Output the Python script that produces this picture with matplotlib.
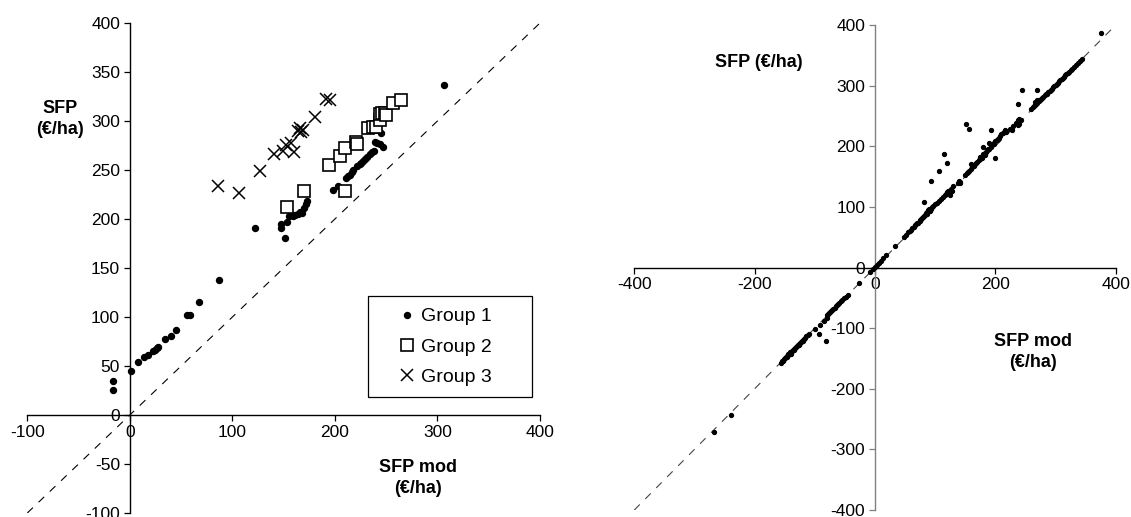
import matplotlib
matplotlib.use('Agg')  # Non-interactive backend
import matplotlib.pyplot as plt
from matplotlib.patches import Rectangle
import numpy as np

plt.rcParams['font.family'] = ['Liberation Sans', 'DejaVu Sans']
plt.rcParams['axes.unicode_minus'] = False

# Left panel: SFP vs SFP mod for three groups
g1_x = [-16, -16, 1, 8, 14, 18, 23, 25, 26, 27, 34, 40, 45, 56, 59, 67, 87, 122,
        147, 147, 151, 153, 155, 159, 161, 164, 166, 168, 170, 172, 173, 198, 203,
        211, 213, 215, 217, 218, 222, 224, 225, 227, 229, 231, 234, 236, 238, 239,
        241, 244, 247, 245, 306]
g1_y = [35, 26, 45, 54, 59, 61, 65, 66, 68, 69, 78, 81, 87, 102, 102, 115, 138, 191,
        195, 191, 181, 197, 203, 203, 204, 205, 207, 206, 211, 215, 218, 230, 234,
        242, 244, 245, 248, 250, 254, 256, 257, 259, 261, 263, 266, 268, 269, 279,
        278, 277, 273, 288, 337]

g2_x = [153, 170, 194, 205, 210, 210, 221, 222, 232, 237, 240, 244, 244, 246, 249, 250, 257, 264]
g2_y = [212, 229, 255, 264, 272, 229, 279, 277, 293, 294, 294, 301, 307, 308, 308, 306, 318, 321]

g3_x = [86, 106, 127, 141, 149, 152, 157, 160, 164, 166, 167, 169, 181, 191, 195]
g3_y = [234, 227, 249, 266, 269, 276, 278, 268, 290, 293, 289, 291, 304, 322, 321]

left_xticks = [-100, 0, 100, 200, 300, 400]
left_yticks = [-100, -50, 0, 50, 100, 150, 200, 250, 300, 350, 400]

# Right panel: all farms, (SFP mod, SFP) pairs
right_points = [
    (-157, -158), (-155, -155), (-153, -154), (-152, -151), (-150, -150), (-148, -148),
    (-147, -146), (-145, -145), (-144, -143), (-142, -142), (-141, -140), (-139, -139),
    (-138, -137), (-136, -136), (-135, -134), (-133, -133), (-131, -131), (-130, -129),
    (-128, -128), (-127, -126), (-125, -125), (-123, -123), (-122, -121), (-120, -120),
    (-118, -118), (-116, -116), (-114, -113), (-112, -111), (-110, -109), (-146, -148),
    (-140, -142), (-134, -136), (-126, -128), (-119, -121),
    (-80, -79), (-78, -77), (-76, -75), (-75, -73), (-73, -72), (-71, -70), (-69, -68),
    (-67, -66), (-65, -64), (-63, -62), (-61, -60), (-59, -58), (-57, -56), (-55, -54),
    (-52, -51), (-49, -48),
    (-45, -46), (-27, -26), (-8, -7), (-4, -3), (0, 1), (3, 4), (6, 7), (10, 11),
    (14, 16), (19, 20), (33, 35),
    (48, 50), (52, 54), (55, 58), (58, 61), (60, 62), (62, 65), (65, 67), (67, 70),
    (68, 72), (70, 73), (72, 74), (74, 77), (75, 78), (77, 80), (78, 81), (80, 83),
    (81, 85), (83, 86), (84, 88), (85, 90), (86, 92), (87, 89), (88, 95), (89, 93),
    (90, 96), (92, 94), (93, 97), (95, 99), (97, 101), (100, 104), (103, 106),
    (106, 110), (110, 113), (113, 116), (116, 119), (118, 122), (120, 124), (122, 126),
    (124, 127), (126, 130), (128, 127), (125, 120), (130, 134),
    (138, 140), (140, 142), (142, 139), (141, 141),
    (150, 153), (153, 156), (155, 158), (157, 160), (160, 162), (162, 165), (164, 167),
    (166, 170), (168, 172), (170, 174), (172, 177), (174, 179), (175, 183), (177, 181),
    (179, 185), (180, 187), (182, 186), (183, 189), (185, 191), (186, 193), (188, 195),
    (190, 196), (192, 198), (193, 200), (195, 202), (197, 204), (198, 206), (200, 208),
    (202, 210), (204, 212), (206, 214), (208, 217), (210, 220), (212, 222), (214, 224),
    (216, 226), (218, 223),
    (225, 229), (230, 233), (235, 238), (238, 243), (240, 245), (242, 244), (240, 236),
    (260, 262), (262, 264), (264, 266), (266, 268), (268, 270), (270, 272), (272, 274),
    (274, 276), (276, 278), (278, 280), (280, 282), (282, 284), (284, 286), (286, 287),
    (288, 289), (290, 291), (292, 293), (294, 295), (296, 297), (298, 299), (300, 301),
    (302, 303), (304, 305), (306, 307), (308, 309), (310, 311), (312, 313), (314, 315),
    (316, 317), (318, 319), (320, 321), (322, 323), (325, 326), (328, 328), (331, 331),
    (334, 334), (337, 337), (340, 340), (344, 344), (270, 277), (266, 273),
    # points away from the diagonal
    (375, 386), (244, 292), (270, 292), (237, 269), (152, 237), (157, 229), (192, 227),
    (114, 188), (119, 173), (107, 160), (93, 143), (81, 108), (159, 171), (180, 198),
    (190, 205), (199, 181), (197, 205), (228, 227), (238, 235),
    (-79, -83), (-85, -88), (-92, -95), (-100, -102), (-93, -109), (-81, -121),
    (-239, -243), (-267, -271),
]
right_xticks = [-400, -200, 0, 200, 400]
right_yticks = [-400, -300, -200, -100, 0, 100, 200, 300, 400]

W, H = 1131, 517
fig = plt.figure(figsize=(W / 100, H / 100), dpi=100)
ax1 = fig.add_axes([27.3 / W, 1 - 513 / H, (540 - 27.3) / W, (513 - 23) / H])
ax2 = fig.add_axes([634.3 / W, 1 - 510 / H, (1115.7 - 634.3) / W, (510 - 25) / H])


def style_axes(ax, ycolor):
    ax.spines['top'].set_visible(False)
    ax.spines['right'].set_visible(False)
    ax.spines['left'].set_position(('data', 0))
    ax.spines['bottom'].set_position(('data', 0))
    ax.spines['left'].set_color(ycolor)
    ax.spines['left'].set_linewidth(1.0)
    ax.spines['bottom'].set_linewidth(1.0)
    ax.tick_params(direction='out', length=4, width=0.9, labelsize=12.5, pad=3)
    ax.tick_params(axis='y', color=ycolor)
    ax.patch.set_visible(False)


# left panel
style_axes(ax1, 'black')
ax1.set_xlim(-100, 400)
ax1.set_ylim(-100, 400)
ax1.set_xticks(left_xticks)
ax1.set_yticks(left_yticks)
ax1.axline((0, 0), slope=1, color='black', lw=0.8, dashes=(7, 7))
h1, = ax1.plot(g1_x, g1_y, 'o', color='black', ms=4.3, label='Group 1', zorder=3)
h2, = ax1.plot(g2_x, g2_y, 's', mfc='white', mec='black', mew=1.2, ms=8,
               label='Group 2', zorder=4)
h3, = ax1.plot(g3_x, g3_y, 'x', color='black', mew=1.1, ms=9, label='Group 3', zorder=5)

ax1.add_patch(Rectangle((0.664, 0.236), 0.32, 0.206, transform=ax1.transAxes,
                        facecolor='white', edgecolor='black', lw=0.9, zorder=6))
leg = ax1.legend(handles=[h1, h2, h3], loc='center', bbox_to_anchor=(0.815, 0.339),
                 frameon=False, fontsize=14, handlelength=0.9, handletextpad=0.25,
                 labelspacing=0.65, markerscale=1.0)
leg.set_zorder(7)

fig.text(60 / W, 1 - 119 / H, 'SFP\n(€/ha)', ha='center', va='center',
         fontsize=13, fontweight='bold', linespacing=1.35)
fig.text(418 / W, 1 - 478 / H, 'SFP mod\n(€/ha)', ha='center', va='center',
         fontsize=13, fontweight='bold', linespacing=1.35)

# right panel
style_axes(ax2, '#808080')
ax2.set_xlim(-400, 400)
ax2.set_ylim(-400, 400)
ax2.set_xticks(right_xticks)
ax2.set_yticks(right_yticks)
ax2.axline((0, 0), slope=1, color='#444444', lw=0.8, dashes=(7, 7))
pts = np.array(right_points)
ax2.plot(pts[:, 0], pts[:, 1], 'o', color='black', ms=2.8, zorder=3)

fig.text(759 / W, 1 - 63 / H, 'SFP (€/ha)', ha='center', va='center',
         fontsize=13, fontweight='bold')
fig.text(1033 / W, 1 - 352 / H, 'SFP mod\n(€/ha)', ha='center', va='center',
         fontsize=13, fontweight='bold', linespacing=1.35)

fig.savefig('out.png', dpi=100)
plt.close(fig)
